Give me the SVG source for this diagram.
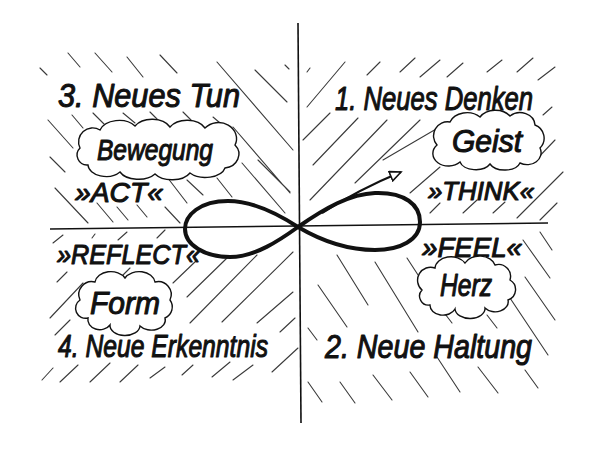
<svg xmlns="http://www.w3.org/2000/svg" width="600" height="450" viewBox="0 0 600 450">
<style>
.h{stroke:#3a3a3a;stroke-width:1.1;stroke-linecap:round;fill:none}
.ax{stroke:#111;stroke-width:1.6;fill:none}
.cl{stroke:#111;stroke-width:1.4;fill:#fff}
.t{font-family:"Liberation Sans","DejaVu Sans",sans-serif;font-style:italic;fill:#111;stroke:#111;stroke-width:1.1;stroke-linejoin:round}
.inf{stroke:#111;stroke-width:4;fill:none;stroke-linejoin:round}
</style>
<defs>
<marker id="ah" markerWidth="14" markerHeight="12" refX="12" refY="6" orient="auto" markerUnits="userSpaceOnUse">
<path d="M1,1 L12,6 L1,11 Z" fill="#fff" stroke="#111" stroke-width="1.6"/>
</marker>
</defs>
<rect width="600" height="450" fill="#fff"/>
<g id="hatch">
<path class="h" d="M40,68L47,75M68,53L80,67M95,53L112,72M127,57L143,77M160,55L177,73M217,62L293,150M255,70L287,102M285,65L289,69
M48,120L73,148M72,115L83,128M93,113L107,127M123,113L135,123M150,112L160,122M183,112L193,122M213,117L220,123M233,127L290,193M242,163L285,213
M50,157L65,172M167,177L187,203M187,180L203,195M217,178L232,197M55,188L88,223M97,203L113,222M117,207L128,220M137,205L147,217M165,207L180,223M258,160L290,192"/>
<path class="h" d="M307,72L310,68M307,107L345,62M367,75L380,62M400,72L415,58M420,77L440,60M447,77L463,63M487,72L502,60M517,72L533,58M538,80L555,67M543,115L552,107
M303,140L330,113M313,165L358,118M310,200L387,120M355,183L420,120M383,160L443,125M410,193L440,167M533,163L555,140M517,218L563,172M540,220L557,203M430,213L440,203M463,213L477,200M493,213L505,202M500,168L513,157"/>
<path class="h" d="M53,243L63,235M92,238L95,234M118,240L127,232M157,238L165,230M57,282L67,272M50,318L83,283M123,275L130,268M173,283L197,260M187,297L227,258M190,323L257,255M222,322L293,252M257,323L293,292M280,332L295,318M55,335L70,320
M42,380L53,368M60,382L78,365M90,382L110,363M120,382L138,365M150,378L165,367M182,375L193,365M212,377L230,362M233,380L253,365M272,372L298,348"/>
<path class="h" d="M337,255L368,305M375,262L418,332M318,285L347,327M407,258L420,278M442,310L452,323M487,315L497,328M508,295L548,355M525,277L555,320M523,240L550,278M540,232L552,250M308,328L317,340
M308,382L322,402M340,382L355,403M373,375L392,400M410,372L428,397M437,357L460,392M478,367L498,393M525,370L538,388"/>
</g>
<g id="axes">
<path class="ax" d="M298,23 L301,423"/>
<path class="ax" d="M50,229 L548,223"/>
</g>
<g id="connectors">
<path id="infinity" class="inf" d="M298,227 C325,208 350,194 375,193 C405,192 420,205 420,222 C420,240 400,250 375,250 C345,250 320,240 298,227 C275,212 250,201 228,201 C200,201 185,215 185,229 C185,245 205,257 230,257 C255,257 280,240 298,227 Z"/>
<path id="arrow" d="M322,213 C347,197 372,184 401,172" stroke="#111" stroke-width="2.2" fill="none" marker-end="url(#ah)"/>
</g>
<g id="q3">
<text class="t" x="58" y="107" font-size="34" textLength="182" lengthAdjust="spacingAndGlyphs">3. Neues Tun</text>
<path class="cl" d="M80,148 A14,14 0 0 1 100,130 A20,14 0 0 1 135,126 A20,14 0 0 1 170,127 A20,14 0 0 1 205,128 A18,16 0 0 1 235,145 A16,14 0 0 1 225,168 A20,12 0 0 1 190,173 A20,12 0 0 1 155,174 A20,12 0 0 1 120,172 A18,12 0 0 1 88,165 A10,10 0 0 1 80,148 Z"/>
<text class="t" x="97" y="160" font-size="30" textLength="116" lengthAdjust="spacingAndGlyphs">Bewegung</text>
<text class="t" x="75" y="202" font-size="28" textLength="88" lengthAdjust="spacingAndGlyphs">»ACT«</text>
</g>
<g id="q1">
<text class="t" x="335" y="110" font-size="34" textLength="198" lengthAdjust="spacingAndGlyphs">1. Neues Denken</text>
<path class="cl" d="M437,145 A14,14 0 0 1 450,122 A18,14 0 0 1 480,117 A18,14 0 0 1 510,116 A15,13 0 0 1 535,125 A14,14 0 0 1 540,148 A14,12 0 0 1 520,163 A16,10 0 0 1 490,164 A16,10 0 0 1 460,162 A10,8 0 0 1 437,145 Z"/>
<text class="t" x="452" y="152" font-size="31" textLength="70" lengthAdjust="spacingAndGlyphs">Geist</text>
<text class="t" x="428" y="200" font-size="26" textLength="106" lengthAdjust="spacingAndGlyphs">»THINK«</text>
</g>
<g id="q4">
<text class="t" x="57" y="264" font-size="28" textLength="143" lengthAdjust="spacingAndGlyphs">»REFLECT«</text>
<path class="cl" d="M80,300 A13,13 0 0 1 95,282 A16,12 0 0 1 125,278 A16,12 0 0 1 155,282 A13,13 0 0 1 170,300 A12,12 0 0 1 165,318 A14,10 0 0 1 140,326 A15,10 0 0 1 110,325 A12,10 0 0 1 88,318 A10,10 0 0 1 80,300 Z"/>
<text class="t" x="90" y="314" font-size="32" textLength="70" lengthAdjust="spacingAndGlyphs">Form</text>
<text class="t" x="58" y="357" font-size="32" textLength="210" lengthAdjust="spacingAndGlyphs">4. Neue Erkenntnis</text>
</g>
<g id="q2">
<text class="t" x="422" y="257" font-size="28" textLength="100" lengthAdjust="spacingAndGlyphs">»FEEL«</text>
<path class="cl" d="M422,290 A13,13 0 0 1 435,268 A16,12 0 0 1 465,263 A16,12 0 0 1 495,265 A12,12 0 0 1 510,280 A11,11 0 0 1 508,300 A13,10 0 0 1 485,308 A15,10 0 0 1 455,309 A13,10 0 0 1 430,305 A9,9 0 0 1 422,290 Z"/>
<text class="t" x="440" y="296" font-size="32" textLength="52" lengthAdjust="spacingAndGlyphs">Herz</text>
<text class="t" x="325" y="358" font-size="34" textLength="207" lengthAdjust="spacingAndGlyphs">2. Neue Haltung</text>
</g>
</svg>
